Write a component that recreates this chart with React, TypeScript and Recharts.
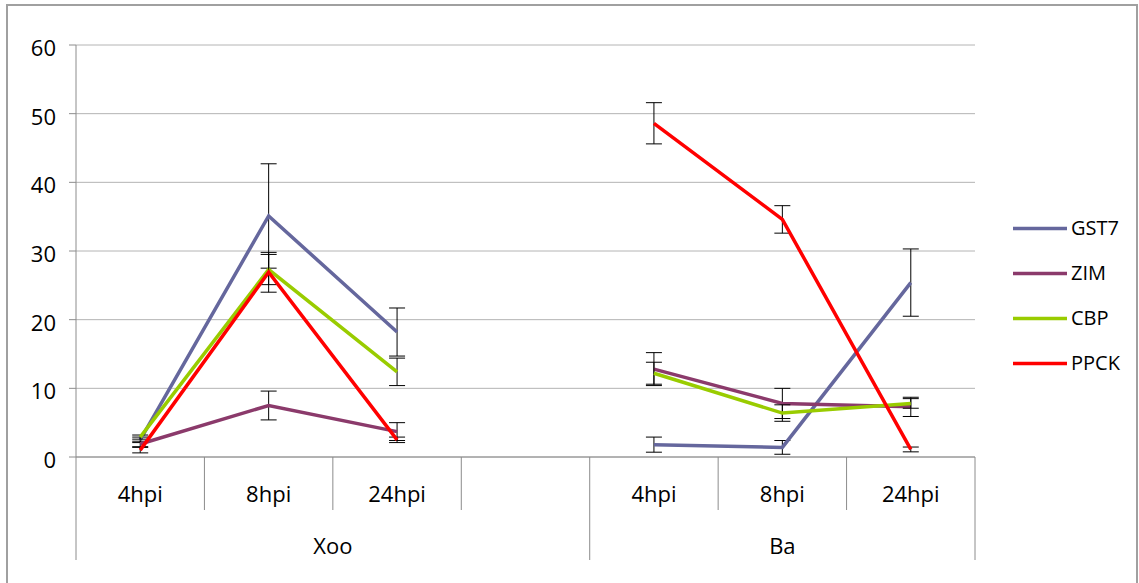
import React from "react";
import { LineChart, Line, XAxis, YAxis, CartesianGrid, ErrorBar, Legend } from "recharts";

const categories = ["4hpi", "8hpi", "24hpi", "", "4hpi", "8hpi", "24hpi"];
const groups = ["Xoo", "Ba"];
const groupSpans = [4, 3];
const seriesNames = ["GST7", "ZIM", "CBP", "PPCK"];
const seriesColors = ["#65679D", "#8B3A6B", "#99CC00", "#FF0000"];

const gst7 = [2.5, 35.1, 18.2, null, 1.8, 1.4, 25.4];
const gst7Err = [0.4, 7.6, 3.5, null, 1.1, 1.0, 4.9];
const zim = [1.9, 7.5, 3.7, null, 12.8, 7.8, 7.3];
const zimErr = [0.4, 2.1, 1.3, null, 2.4, 2.2, 1.4];
const cbp = [2.9, 27.3, 12.4, null, 12.2, 6.4, 7.8];
const cbpErr = [0.3, 2.2, 2.0, null, 1.6, 1.2, 0.7];
const ppck = [1.0, 26.9, 2.5, null, 48.6, 34.6, 1.1];
const ppckErr = [0.4, 2.9, 0.4, null, 3.0, 2.0, 0.35];
const yTicks = [0, 10, 20, 30, 40, 50, 60];

const values = [gst7, zim, cbp, ppck];
const errors = [gst7Err, zimErr, cbpErr, ppckErr];

const data = categories.map((cat, i) => {
  const row: any = { cat };
  seriesNames.forEach((s, k) => {
    row[s] = values[k][i];
    row[s + "_err"] = errors[k][i];
  });
  return row;
});

const FONT = "'Open Sans', sans-serif";
const CHART_W = 1139;
const CHART_H = 583;
const Y_AXIS_W = 76;
const LEGEND_W = 139;
const RIGHT_MARGIN = 25;
const PLOT_W = CHART_W - Y_AXIS_W - LEGEND_W - RIGHT_MARGIN;
const BAND = PLOT_W / categories.length;
const AXIS_COLOR = "#8c8c8c";

const groupStarts: number[] = [];
{
  let acc = 0;
  groupSpans.forEach((s) => {
    groupStarts.push(acc);
    acc += s;
  });
}

const CatTick = (props: any) => {
  const { x, y, payload, index } = props;
  const half = BAND / 2;
  const gi = groupStarts.indexOf(index);
  const isStart = gi >= 0;
  const isLast = index === categories.length - 1;
  return (
    <g>
      <line x1={x - half} x2={x - half} y1={y} y2={y + (isStart ? 103 : 53)} stroke={AXIS_COLOR} strokeWidth={1} />
      {isLast && <line x1={x + half} x2={x + half} y1={y} y2={y + 103} stroke={AXIS_COLOR} strokeWidth={1} />}
      <text x={x} y={y + 45} textAnchor="middle" fontFamily={FONT} fontSize={22} fill="#000">
        {payload.value}
      </text>
      {isStart && (
        <text x={x - half + (groupSpans[gi] * BAND) / 2} y={y + 97} textAnchor="middle" fontFamily={FONT} fontSize={22} fill="#000">
          {groups[gi]}
        </text>
      )}
    </g>
  );
};

const YTick = (props: any) => {
  const { x, y, payload } = props;
  return (
    <text x={x} y={y + 11} textAnchor="end" fontFamily={FONT} fontSize={22} fill="#000">
      {payload.value}
    </text>
  );
};

const LegendContent = () => (
  <div style={{ width: LEGEND_W, fontFamily: FONT }}>
    {seriesNames.map((s, k) => (
      <div key={s} style={{ height: 45, position: "relative" }}>
        <svg width={60} height={45} style={{ position: "absolute", left: 10, top: 0 }}>
          <line x1={3} x2={57} y1={22.5} y2={22.5} stroke={seriesColors[k]} strokeWidth={3.5} />
        </svg>
        <span style={{ position: "absolute", left: 71, top: 8, fontSize: 20, lineHeight: "28px", color: "#000" }}>{s}</span>
      </div>
    ))}
  </div>
);

export default function App() {
  return (
    <div style={{ position: "absolute", left: 0, top: 0, width: CHART_W, height: CHART_H, background: "#fff", overflow: "hidden" }}>
      <div
        style={{
          position: "absolute",
          left: 6,
          top: 4,
          width: 1132,
          height: 600,
          boxSizing: "border-box",
          border: "2px solid #a0a0a0",
        }}
      />
      <div style={{ position: "absolute", left: 0, top: 0 }}>
        <LineChart width={CHART_W} height={CHART_H} data={data} margin={{ top: 45, right: RIGHT_MARGIN, bottom: 0, left: 0 }}>
          <CartesianGrid vertical={false} stroke="#b4b4b4" strokeWidth={1} />
          <XAxis
            dataKey="cat"
            padding={{ left: BAND / 2, right: BAND / 2 }}
            interval={0}
            height={CHART_H - 457}
            tickSize={0}
            tickMargin={0}
            axisLine={{ stroke: AXIS_COLOR }}
            tickLine={false}
            tick={<CatTick />}
          />
          <YAxis
            width={Y_AXIS_W}
            domain={[0, 60]}
            ticks={yTicks}
            interval={0}
            tickSize={7}
            tickMargin={13}
            axisLine={{ stroke: AXIS_COLOR }}
            tickLine={{ stroke: AXIS_COLOR }}
            tick={<YTick />}
          />
          <Legend
            layout="vertical"
            align="right"
            verticalAlign="top"
            wrapperStyle={{ top: 206, right: 0, width: LEGEND_W }}
            content={<LegendContent />}
          />
          {seriesNames.map((s, k) => (
            <Line
              key={s}
              type="linear"
              dataKey={s}
              name={s}
              stroke={seriesColors[k]}
              strokeWidth={3.5}
              dot={false}
              activeDot={false}
              connectNulls={false}
              isAnimationActive={false}
            >
              <ErrorBar dataKey={s + "_err"} direction="y" width={8} stroke="#000" strokeWidth={1} />
            </Line>
          ))}
        </LineChart>
      </div>
    </div>
  );
}
